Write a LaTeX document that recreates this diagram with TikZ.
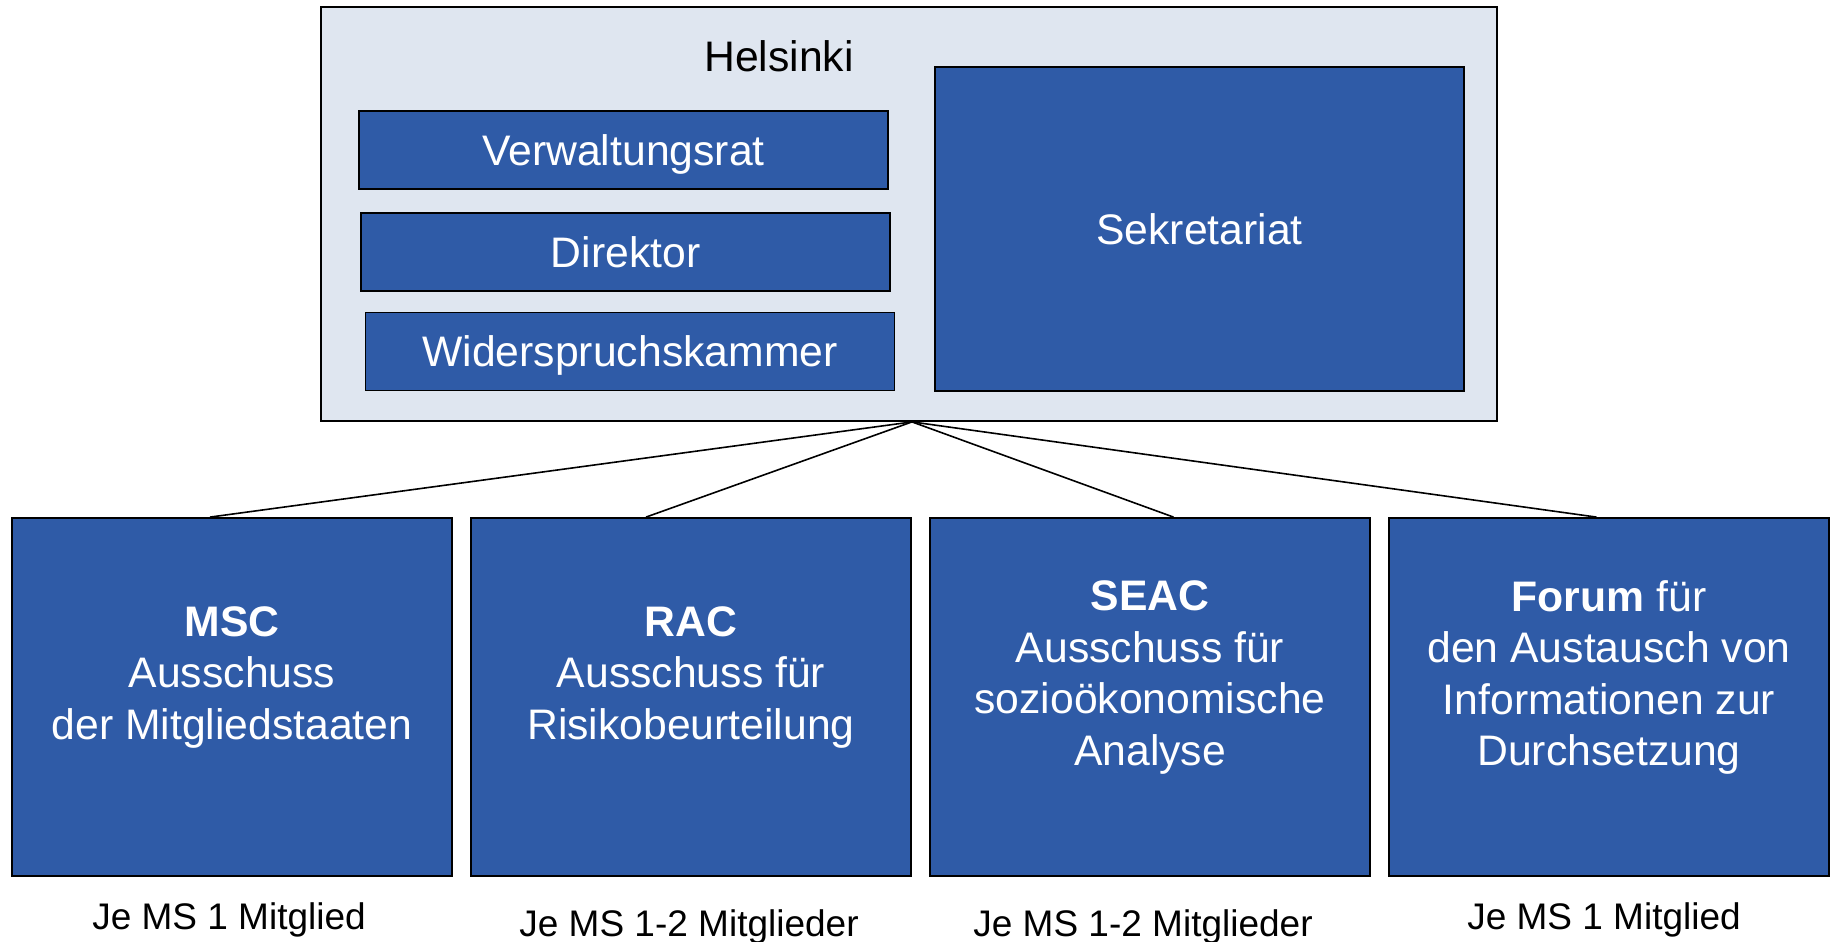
\documentclass[tikz,border=0pt]{standalone}
\usepackage{fontspec}
\setmainfont{Liberation Sans}
\usetikzlibrary{positioning}

\definecolor{boxblue}{RGB}{47,91,167}
\definecolor{sitebg}{RGB}{223,230,240}

\begin{document}
\begin{tikzpicture}
	[x=0.5pt, y=-0.5pt]

\useasboundingbox (0, 0) rectangle (1832, 942);

\def\BoxWidth{220pt}
\def\BoxHeight{179pt}
\def\Spacing{8.6pt}
\def\RowWidth{264.5pt}
\def\RowHeight{39pt}

% Styles
\tikzstyle{big font} =
	[font=\fontsize{21.35}{25.7}\selectfont]

\tikzstyle{box} =
	[big font, draw=black, line width=0.9pt, fill=boxblue, text=white, inner sep=0pt]

\tikzstyle{row} =
	[box, minimum width=\RowWidth, minimum height=\RowHeight, text height=15.3pt, text depth=0pt]

\tikzstyle{committee} =
	[box, minimum width=\BoxWidth, minimum height=\BoxHeight]

\tikzstyle{committee text} =
	[big font, text=white, align=center]

\tikzstyle{members} =
	[font=\fontsize{18.5}{22}\selectfont, anchor=base]

% Modules

\node (Helsinki) at (909, 214)
	[draw=black, line width=0.9pt, fill=sitebg, minimum width=588pt, minimum height=207pt]
	{};
\node (HelsinkiLabel) at (779, 56) [big font] {Helsinki};

\node (Verwaltungsrat) at (623.5, 150) [row] {Verwaltungsrat};
\node (Direktor) at (625.5, 252) [row] {Direktor};
\node (Widerspruchskammer) at (630, 351.5) [row] {Widerspruchskammer};
\node (Sekretariat) at (1199.5, 229)
	[box, minimum width=\RowWidth, minimum height=162pt]
	{Sekretariat};

\node (MSC) at (232, 697) [committee] {};
\node (RAC) [committee, right=\Spacing of MSC] {};
\node (SEAC) [committee, right=\Spacing of RAC] {};
\node (Forum) [committee, right=\Spacing of SEAC] {};

\node (MSCText) at ([yshift=9.75pt]MSC.center) [committee text]
	{\textbf{MSC}\\Ausschuss\\der Mitgliedstaaten};
\node (RACText) at ([yshift=9.75pt]RAC.center) [committee text]
	{\textbf{RAC}\\Ausschuss für\\Risikobeurteilung};
\node (SEACText) at ([yshift=9.75pt]SEAC.center) [committee text]
	{\textbf{SEAC}\\Ausschuss für\\sozioökonomische\\Analyse};
\node (ForumText) at ([yshift=9.75pt]Forum.center) [committee text]
	{\textbf{Forum} für\\den Austausch von\\Informationen zur\\Durchsetzung};

\node (MSCMembers) at (229, 929) [members] {Je MS 1 Mitglied};
\node (RACMembers) at (689, 936) [members] {Je MS 1-2 Mitglieder};
\node (SEACMembers) at (1143, 936) [members] {Je MS 1-2 Mitglieder};
\node (ForumMembers) at (1604, 929) [members] {Je MS 1 Mitglied};

% Edges

\coordinate (Hub) at ([xshift=1.5pt]Helsinki.south);

\path[draw, line width=0.8pt]
	(Hub) edge ([xshift=-11pt]MSC.north)
	(Hub) edge ([xshift=-22.5pt]RAC.north)
	(Hub) edge ([xshift=11.75pt]SEAC.north)
	(Hub) edge ([xshift=-6.25pt]Forum.north);

\end{tikzpicture}
\end{document}
